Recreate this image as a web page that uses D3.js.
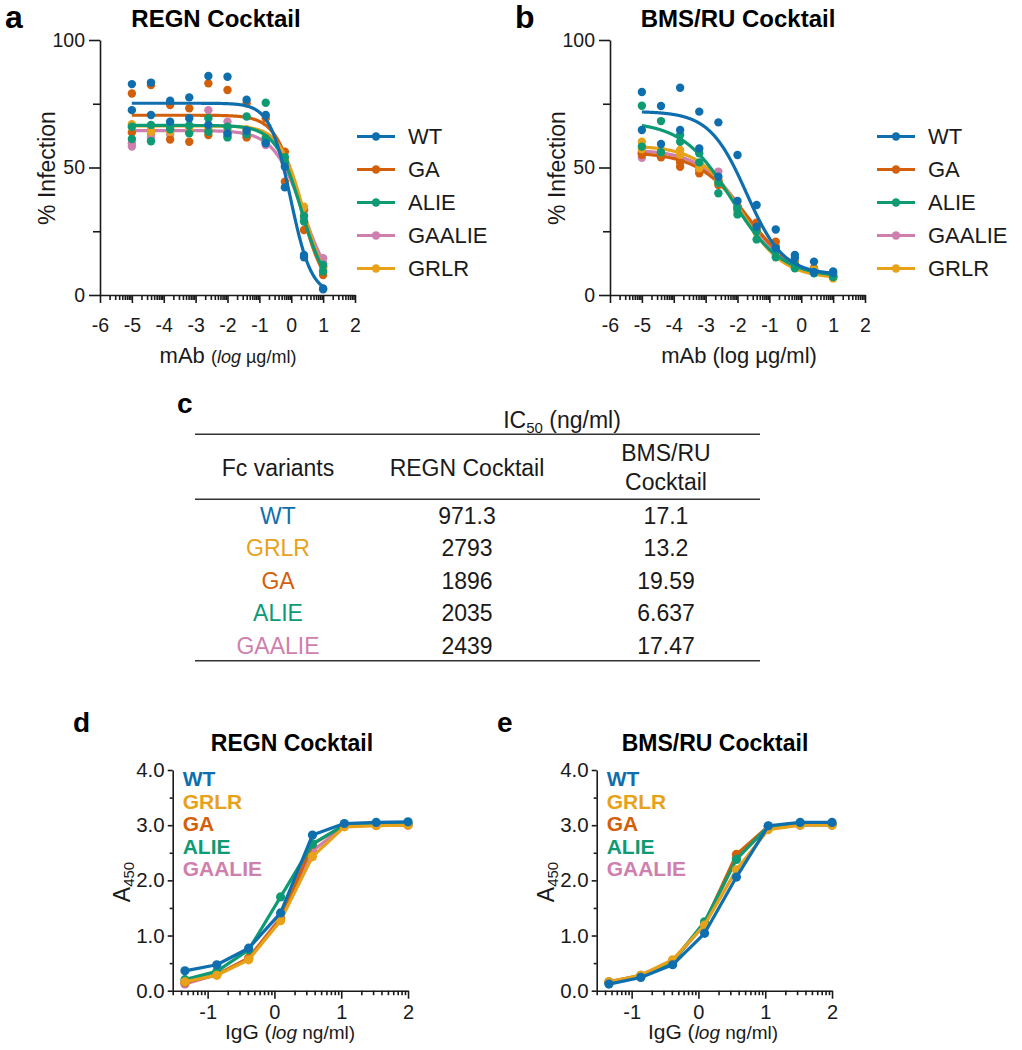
<!DOCTYPE html>
<html><head><meta charset="utf-8">
<script src="https://cdn.jsdelivr.net/npm/d3@7"></script>
<style>body{margin:0;background:#fff}svg{display:block}</style>
</head><body><svg id="c" width="1022" height="1050"></svg>
<script>
// ---------------- DATA ----------------
const variants = ["WT","GA","ALIE","GAALIE","GRLR"];
const doseLog = [-5,-4.4,-3.8,-3.2,-2.6,-2.0,-1.4,-0.8,-0.2,0.4,1.0];

// Panel a: REGN cocktail, % infection, two replicates per variant
const regnWT_r1     = [82.7,83.3,76.2,77.5,85.9,85.6,76.6,70.6,50.3,15.7,2.2];
const regnWT_r2     = [72.5,70.6,68.0,69.3,66.7,63.4,64.4,59.5,42.2,14.8,2.6];
const regnGA_r1     = [79.0,82.3,74.5,73.2,83.0,80.4,75.2,69.3,56.2,33.6,10.9];
const regnGA_r2     = [63.7,64.3,61.0,60.1,62.7,62.5,61.8,60.0,44.4,25.5,7.8];
const regnALIE_r1   = [61.2,66.7,66.7,63.4,69.3,61.8,70.0,75.4,54.0,28.8,11.8];
const regnALIE_r2   = [66.0,60.3,65.0,66.5,64.0,66.0,63.0,61.4,52.0,31.0,9.2];
const regnGAALIE_r1 = [58.2,61.8,64.0,66.0,72.5,68.0,62.0,58.8,53.0,33.0,14.4];
const regnGAALIE_r2 = [59.5,63.0,63.0,64.0,64.0,64.0,63.0,60.0,51.0,30.0,12.5];
const regnGRLR_r1   = [67.0,66.0,65.5,66.0,66.0,65.0,64.0,61.0,53.0,34.6,11.1];
const regnGRLR_r2   = [66.0,64.0,64.0,65.0,65.0,64.0,65.0,62.0,52.0,31.0,10.0];
// 4-parameter logistic fit parameters (order = variants)
const regnFitTop     = [75.2,70.5,66.5,64.5,66.3];
const regnFitBottom  = [0,0,0,0,0];
const regnFitLogIC50 = [-0.017,0.285,0.32,0.378,0.385];
const regnFitHill    = [1.33,1.13,1.07,0.935,1.157];

// Panel b: BMS/RU cocktail
const bmsWT_r1     = [79.6,74.1,81.3,71.9,67.7,54.9,35.3,25.7,15.7,13.1,9.2];
const bmsWT_r2     = [64.7,59.2,64.7,57.5,46.4,36.9,26.8,18.3,14.5,8.8,8.6];
const bmsGA_r1     = [55.5,55.3,50.3,47.7,44.4,34.5,28.4,20.9,13.0,10.5,7.8];
const bmsGA_r2     = [55.0,54.0,52.0,49.0,43.1,33.0,27.0,19.0,12.5,10.0,7.2];
const bmsALIE_r1   = [74.2,68.2,62.7,55.6,39.9,31.6,21.8,14.8,10.5,8.5,7.5];
const bmsALIE_r2   = [58.2,56.0,60.1,52.0,44.0,34.0,25.0,17.0,12.0,9.0,7.0];
const bmsGAALIE_r1 = [53.8,54.2,52.9,50.0,48.4,35.0,26.0,18.0,12.0,10.0,7.5];
const bmsGAALIE_r2 = [56.0,55.0,54.0,51.0,45.0,33.5,25.0,17.0,11.5,9.5,7.0];
const bmsGRLR_r1   = [60.1,57.1,56.9,51.6,45.0,34.0,24.4,17.0,11.8,10.0,6.5];
const bmsGRLR_r2   = [57.1,56.0,55.0,49.7,44.0,33.0,26.0,16.0,12.5,9.0,7.2];
const bmsFitTop     = [72.0,56.0,68.0,57.0,58.5];
const bmsFitBottom  = [8.0,6.0,7.0,6.5,6.5];
const bmsFitLogIC50 = [-1.72,-1.708,-2.178,-1.758,-1.879];
const bmsFitHill    = [0.75,0.56,0.56,0.6,0.65];

// Panel c: IC50 table
const tableVariants = ["WT","GRLR","GA","ALIE","GAALIE"];
const ic50Regn = ["971.3","2793","1896","2035","2439"];
const ic50Bms  = ["17.1","13.2","19.59","6.637","17.47"];

// Panels d/e: ELISA A450
const elisaDoseLog = [-1.340,-0.863,-0.386,0.092,0.569,1.046,1.523,2.0];
const elisaRegnWT     = [0.36,0.47,0.77,1.41,2.82,3.03,3.05,3.06];
const elisaRegnGRLR   = [0.16,0.28,0.56,1.27,2.43,2.97,2.99,3.00];
const elisaRegnGA     = [0.15,0.29,0.59,1.30,2.65,3.00,3.00,3.01];
const elisaRegnALIE   = [0.20,0.35,0.74,1.70,2.66,3.00,3.01,3.02];
const elisaRegnGAALIE = [0.12,0.29,0.59,1.33,2.53,2.98,3.00,3.00];
const elisaBmsWT      = [0.12,0.24,0.47,1.04,2.06,2.99,3.05,3.05];
const elisaBmsGRLR    = [0.16,0.28,0.56,1.19,2.19,2.92,3.00,3.00];
const elisaBmsGA      = [0.16,0.28,0.54,1.22,2.47,2.98,3.02,3.02];
const elisaBmsALIE    = [0.15,0.27,0.52,1.25,2.38,2.98,3.01,3.01];
const elisaBmsGAALIE  = [0.14,0.26,0.53,1.20,2.40,2.96,3.00,3.00];
const elisaLegend = ["WT","GRLR","GA","ALIE","GAALIE"];

// ---------------- STYLE ----------------
const FONT = "'Liberation Sans', Arial, Helvetica, sans-serif";
const colorOf = {WT:"#0f6fae", GA:"#d35f0a", ALIE:"#0e9b74", GAALIE:"#cf7fae", GRLR:"#e8a21a"};
const INK = "#1a1a1a";
const svg = d3.select("#c").style("font-family", FONT);

function styleAxis(sel, fs){
  sel.selectAll("path").attr("stroke", INK).attr("stroke-width", 1.6);
  sel.selectAll("line").attr("stroke", INK).attr("stroke-width", 1.6);
  sel.selectAll("text").attr("font-size", fs).attr("font-family", FONT).attr("fill", INK);
}
function logMinor(lo, hi, nFrom, nTo){
  const out = [];
  for (let n = nFrom; n <= nTo; n++) for (let k = 2; k <= 9; k++){
    const v = n + Math.log10(k);
    if (v >= lo - 1e-6 && v <= hi + 1e-6) out.push(v);
  }
  return out;
}
function fourPL(x, top, bottom, c, h){ return bottom + (top - bottom) / (1 + Math.pow(10, (x - c) * h)); }

// ---------------- PANELS a, b ----------------
function infectionPanel(cfg){
  const g = svg.append("g");
  const x = d3.scaleLinear().domain([-6,2]).range([cfg.x0, cfg.x0 + 255]);
  const y = d3.scaleLinear().domain([0,100]).range([295,40]);
  // axes
  g.append("g").attr("transform",`translate(${cfg.x0},0)`)
    .call(d3.axisLeft(y).tickValues([0,50,100]).tickSize(11).tickSizeOuter(0).tickPadding(4))
    .call(s => styleAxis(s, 19.5));
  g.append("g").attr("transform",`translate(${cfg.x0},0)`)
    .call(d3.axisLeft(y).tickValues([25,75]).tickSize(7).tickFormat(""))
    .call(s => s.select(".domain").remove()).call(s => styleAxis(s, 19));
  g.append("g").attr("transform","translate(0,295)")
    .call(d3.axisBottom(x).tickValues(d3.range(-6,3)).tickSize(8).tickSizeOuter(0).tickPadding(15).tickFormat(d => String(d)))
    .call(s => styleAxis(s, 19.5));
  g.append("g").attr("transform","translate(0,295)")
    .call(d3.axisBottom(x).tickValues(logMinor(-6,2,-6,1)).tickSize(5).tickFormat(""))
    .call(s => s.select(".domain").remove()).call(s => styleAxis(s, 19));

  // data
  const order = ["GAALIE","GA","GRLR","ALIE","WT"];
  const xs = d3.range(0, 601).map(i => -5 + i * 0.01);
  order.forEach(v => {
    const i = variants.indexOf(v);
    const pts = [];
    cfg.reps[v].forEach(rep => rep.forEach((val, j) => pts.push([doseLog[j], val])));
    g.append("g").selectAll("circle").data(pts).join("circle")
      .attr("cx", d => x(d[0])).attr("cy", d => y(d[1])).attr("r", 4.2).attr("fill", colorOf[v]);
    const line = d3.line().x(d => x(d)).y(d => y(fourPL(d, cfg.top[i], cfg.bottom[i], cfg.ic50[i], cfg.hill[i])));
    g.append("path").datum(xs).attr("d", line).attr("fill","none")
      .attr("stroke", colorOf[v]).attr("stroke-width", 3.2);
  });

  // legend
  const lg = g.append("g").selectAll("g").data(variants).join("g")
    .attr("transform", (d,i) => `translate(${cfg.legendX},${136.5 + 33*i})`);
  lg.append("line").attr("x1",0).attr("x2",38).attr("stroke", d => colorOf[d]).attr("stroke-width",3.2);
  lg.append("circle").attr("cx",19).attr("r",4.2).attr("fill", d => colorOf[d]);
  lg.append("text").attr("x",51).attr("dy","0.36em").attr("font-size",22).attr("fill",INK).text(d => d);

  // titles
  g.append("text").attr("x", cfg.titleX).attr("y", 27).attr("text-anchor","middle")
    .attr("font-size",24).attr("font-weight","bold").attr("fill","#000").text(cfg.title);
  g.append("text").attr("x", cfg.letterX).attr("y", 28).attr("font-size",32)
    .attr("font-weight","bold").attr("fill","#000").text(cfg.letter);
  g.append("text").attr("transform",`translate(${cfg.yTitleX},168) rotate(-90)`)
    .attr("text-anchor","middle").attr("font-size",23).attr("fill",INK).text("% Infection");
  const xt = g.append("text").attr("x", cfg.xTitleX).attr("y", 363)
    .attr("text-anchor", "middle").attr("fill", INK);
  cfg.xTitle(xt);
}

infectionPanel({
  x0: 100, title: "REGN Cocktail", titleX: 216, letter: "a", letterX: 5,
  legendX: 357, yTitleX: 55, xTitleX: 228,
  reps: {WT:[regnWT_r1,regnWT_r2], GA:[regnGA_r1,regnGA_r2], ALIE:[regnALIE_r1,regnALIE_r2],
         GAALIE:[regnGAALIE_r1,regnGAALIE_r2], GRLR:[regnGRLR_r1,regnGRLR_r2]},
  top: regnFitTop, bottom: regnFitBottom, ic50: regnFitLogIC50, hill: regnFitHill,
  xTitle: t => {
    t.append("tspan").attr("font-size",22).text("mAb ");
    t.append("tspan").attr("font-size",18).text("(");
    t.append("tspan").attr("font-size",18).attr("font-style","italic").text("log");
    t.append("tspan").attr("font-size",18).text(" µg/ml)");
  }
});
infectionPanel({
  x0: 610, title: "BMS/RU Cocktail", titleX: 738, letter: "b", letterX: 515,
  legendX: 877, yTitleX: 565, xTitleX: 739,
  reps: {WT:[bmsWT_r1,bmsWT_r2], GA:[bmsGA_r1,bmsGA_r2], ALIE:[bmsALIE_r1,bmsALIE_r2],
         GAALIE:[bmsGAALIE_r1,bmsGAALIE_r2], GRLR:[bmsGRLR_r1,bmsGRLR_r2]},
  top: bmsFitTop, bottom: bmsFitBottom, ic50: bmsFitLogIC50, hill: bmsFitHill,
  xTitle: t => { t.attr("font-size",22).text("mAb (log µg/ml)"); }
});

// ---------------- PANEL c (table) ----------------
(function(){
  const g = svg.append("g");
  const colX = [278, 467, 666];
  g.append("text").attr("x",177).attr("y",413).attr("font-size",28).attr("font-weight","bold").attr("fill","#000").text("c");
  const ic = g.append("text").attr("x",562).attr("y",428).attr("text-anchor","middle").attr("font-size",23).attr("fill",INK);
  ic.append("tspan").text("IC");
  ic.append("tspan").attr("font-size",15).attr("dy",5).text("50");
  ic.append("tspan").attr("dy",-5).text(" (ng/ml)");
  [434.3, 499.3, 660.7].forEach(yy =>
    g.append("line").attr("x1",195).attr("x2",760).attr("y1",yy).attr("y2",yy).attr("stroke","#333").attr("stroke-width",1.6));
  const hdr = [["Fc variants",colX[0],476],["REGN Cocktail",colX[1],476],["BMS/RU",colX[2],461],["Cocktail",colX[2],490]];
  g.selectAll("text.h").data(hdr).join("text").attr("class","h")
    .attr("x",d=>d[1]).attr("y",d=>d[2]).attr("text-anchor","middle").attr("font-size",23).attr("fill",INK).text(d=>d[0]);
  const rows = tableVariants.map((v,i) => ({v, a: ic50Regn[i], b: ic50Bms[i], i}));
  const r = g.selectAll("g.r").data(rows).join("g").attr("class","r")
    .attr("transform", d => `translate(0,${523.5 + 32.5*d.i})`);
  r.append("text").attr("x",colX[0]).attr("text-anchor","middle").attr("font-size",23).attr("fill",d=>colorOf[d.v]).text(d=>d.v);
  r.append("text").attr("x",colX[1]).attr("text-anchor","middle").attr("font-size",23).attr("fill",INK).text(d=>d.a);
  r.append("text").attr("x",colX[2]).attr("text-anchor","middle").attr("font-size",23).attr("fill",INK).text(d=>d.b);
})();

// ---------------- PANELS d, e ----------------
function elisaPanel(cfg){
  const g = svg.append("g");
  const xlo = -1.523;
  const x = d3.scaleLinear().domain([xlo, 2]).range([cfg.x0, cfg.x0 + (2 - xlo) * 66.8]);
  const y = d3.scaleLinear().domain([0,4]).range([990.7, 770]);
  g.append("g").attr("transform",`translate(${cfg.x0},0)`)
    .call(d3.axisLeft(y).tickValues([0,1,2,3,4]).tickSize(5).tickSizeOuter(0).tickPadding(3).tickFormat(d3.format(".1f")))
    .call(s => styleAxis(s, 20.5));
  g.append("g").attr("transform",`translate(${cfg.x0},0)`)
    .call(d3.axisLeft(y).tickValues([0.5,1.5,2.5,3.5]).tickSize(3).tickFormat(""))
    .call(s => s.select(".domain").remove()).call(s => styleAxis(s, 20));
  g.append("g").attr("transform","translate(0,990.7)")
    .call(d3.axisBottom(x).tickValues([-1,0,1,2]).tickSize(8).tickSizeOuter(0).tickPadding(6).tickFormat(d => String(d)))
    .call(s => styleAxis(s, 20));
  g.append("g").attr("transform","translate(0,990.7)")
    .call(d3.axisBottom(x).tickValues(logMinor(xlo, 2, -2, 1)).tickSize(4.5).tickFormat(""))
    .call(s => s.select(".domain").remove()).call(s => styleAxis(s, 20));

  const order = ["GAALIE","GA","ALIE","GRLR","WT"];
  const line = d3.line().x(d => x(d[0])).y(d => y(d[1]));
  order.forEach(v => {
    const pts = elisaDoseLog.map((d,i) => [d, cfg.series[v][i]]);
    g.append("path").datum(pts).attr("d", line).attr("fill","none").attr("stroke", colorOf[v])
      .attr("stroke-width", 3.2).attr("stroke-linejoin","round");
    g.append("g").selectAll("circle").data(pts).join("circle")
      .attr("cx", d => x(d[0])).attr("cy", d => y(d[1])).attr("r", 4.6).attr("fill", colorOf[v]);
  });

  g.selectAll("text.lg").data(elisaLegend).join("text").attr("class","lg")
    .attr("x", cfg.x0 + 10).attr("y", (d,i) => 786 + 22.5*i).attr("font-size",21).attr("font-weight","bold")
    .attr("fill", d => colorOf[d]).text(d => d);

  g.append("text").attr("x", cfg.titleX).attr("y", 751).attr("text-anchor","middle")
    .attr("font-size",23).attr("font-weight","bold").attr("fill","#000").text(cfg.title);
  g.append("text").attr("x", cfg.letterX).attr("y", 732).attr("font-size",28)
    .attr("font-weight","bold").attr("fill","#000").text(cfg.letter);
  const yt = g.append("text").attr("transform",`translate(${cfg.x0 - 43},882) rotate(-90)`)
    .attr("text-anchor","middle").attr("fill",INK);
  yt.append("tspan").attr("font-size",23).text("A");
  yt.append("tspan").attr("font-size",15).attr("dy",4).text("450");
  const xt = g.append("text").attr("x", cfg.xTitleX).attr("y", 1039).attr("text-anchor","middle").attr("fill",INK);
  xt.append("tspan").attr("font-size",21).text("IgG (");
  xt.append("tspan").attr("font-size",19).attr("font-style","italic").text("log");
  xt.append("tspan").attr("font-size",19).text(" ng/ml)");
}

elisaPanel({x0: 172.7, title: "REGN Cocktail", titleX: 292, letter: "d", letterX: 73, xTitleX: 290,
  series: {WT: elisaRegnWT, GRLR: elisaRegnGRLR, GA: elisaRegnGA, ALIE: elisaRegnALIE, GAALIE: elisaRegnGAALIE}});
elisaPanel({x0: 596.7, title: "BMS/RU Cocktail", titleX: 715, letter: "e", letterX: 497, xTitleX: 713,
  series: {WT: elisaBmsWT, GRLR: elisaBmsGRLR, GA: elisaBmsGA, ALIE: elisaBmsALIE, GAALIE: elisaBmsGAALIE}});
</script></body></html>
